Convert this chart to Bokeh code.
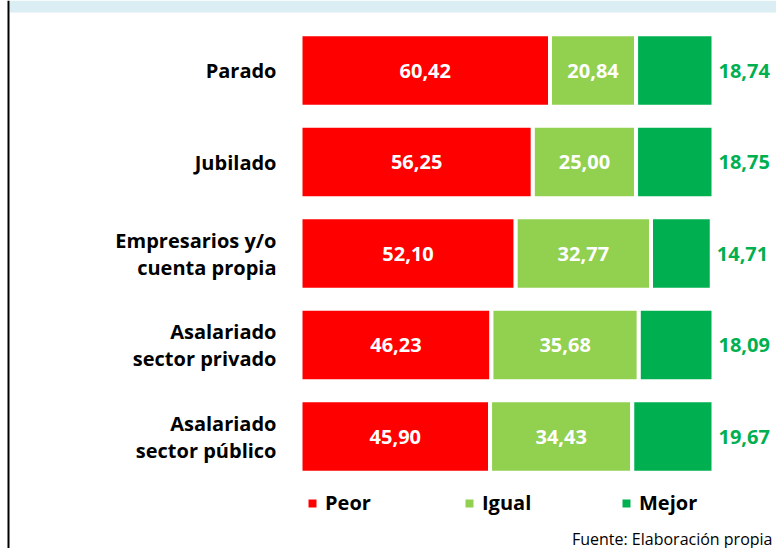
from bokeh.plotting import figure
from bokeh.models import Range1d, Span, BoxAnnotation, Legend, LegendItem, ColumnDataSource
from bokeh.core.properties import value
from bokeh.embed import file_html
from bokeh.resources import INLINE

categories = ["Parado", "Jubilado", "Empresarios y/o\ncuenta propia",
              "Asalariado\nsector privado", "Asalariado\nsector público"]
peor = [60.42, 56.25, 52.10, 46.23, 45.90]
igual = [20.84, 25.00, 32.77, 35.68, 34.43]
mejor = [18.74, 18.75, 14.71, 18.09, 19.67]
series_names = ["Peor", "Igual", "Mejor"]
colors = ["#FF0000", "#92D050", "#00B050"]
footer = "Fuente: Elaboración propia"

fmt = lambda v: f"{v:.2f}".replace(".", ",")

ys = list(range(len(categories)))
c1 = peor
c2 = [a + b for a, b in zip(peor, igual)]
c3 = [a + b + c for a, b, c in zip(peor, igual, mejor)]

src = ColumnDataSource(dict(
    y=ys, cat=categories,
    p0=[0] * len(ys), p1=c1, i1=c2, m1=c3,
    pmid=[v / 2 for v in peor],
    imid=[a + b / 2 for a, b in zip(peor, igual)],
    plab=[fmt(v) for v in peor], ilab=[fmt(v) for v in igual], mlab=[fmt(v) for v in mejor],
))

W, H = 776, 548
PX = 4.13        # px per percentage unit
X0 = 300         # px of 0 %
ROW = 91.5       # px per row
Y0 = 70          # px of first row centre

p = figure(width=W, height=H, output_backend="svg", toolbar_location=None,
           x_range=Range1d(-X0 / PX, (W - X0) / PX),
           y_range=Range1d((H - Y0) / ROW, -Y0 / ROW),
           min_border=0, outline_line_color=None)
p.axis.visible = False
p.grid.visible = False

# top band and left border
p.add_layout(BoxAnnotation(top=-Y0 / ROW, bottom=(-Y0 + 12) / ROW,
                           left=(-X0 + 9) / PX, fill_color="#DAEEF3",
                           fill_alpha=1, line_color=None))
p.add_layout(Span(location=(-X0 + 8) / PX, dimension="height", line_color="black", line_width=2))

bh = 72.5 / ROW
p.hbar(y="y", left="p0", right="p1", height=bh, source=src, fill_color=colors[0],
       line_color="white", line_width=4)
p.hbar(y="y", left="p1", right="i1", height=bh, source=src, fill_color=colors[1],
       line_color="white", line_width=4)
p.hbar(y="y", left="i1", right="m1", height=bh, source=src, fill_color=colors[2],
       line_color="white", line_width=4)

font = value("Open Sans")
p.text(x="pmid", y="y", text="plab", source=src, text_font=font, text_font_style="bold",
       text_font_size="20px", text_color="white", text_align="center", text_baseline="middle")
p.text(x="imid", y="y", text="ilab", source=src, text_font=font, text_font_style="bold",
       text_font_size="20px", text_color="white", text_align="center", text_baseline="middle")
p.text(x="m1", y="y", text="mlab", source=src, text_font=font, text_font_style="bold",
       text_font_size="20px", text_color=colors[2], text_align="left", text_baseline="middle",
       x_offset=5)
p.text(x="p0", y="y", text="cat", source=src, text_font=font, text_font_style="bold",
       text_font_size="20px", text_color="black", text_align="right", text_baseline="middle",
       x_offset=-24, text_line_height=1.0)

# footer
p.text(x=[100], y=[(H - Y0) / ROW], text=[footer], text_font=font,
       text_font_size="16px", text_color="black", text_align="right",
       text_baseline="alphabetic", x_offset=59, y_offset=-10)

# legend: dummy renderers placed outside the visible range
items = []
off = len(categories) + 10
for name, col in zip(series_names, colors):
    d = p.hbar(y=[off], left=[0], right=[1], height=1, fill_color=col, line_color=None)
    items.append(LegendItem(label=name, renderers=[d]))
legend = Legend(items=items, orientation="horizontal", location=(307, 32),
                glyph_width=10, glyph_height=10, label_standoff=8, label_width=139,
                label_height=24, spacing=0, padding=0, margin=0,
                border_line_alpha=0, background_fill_alpha=0,
                label_text_font="Open Sans", label_text_font_style="bold",
                label_text_font_size="20px", label_text_color="black")
p.add_layout(legend, "center")

open("out.html", "w").write(file_html(p, INLINE))
